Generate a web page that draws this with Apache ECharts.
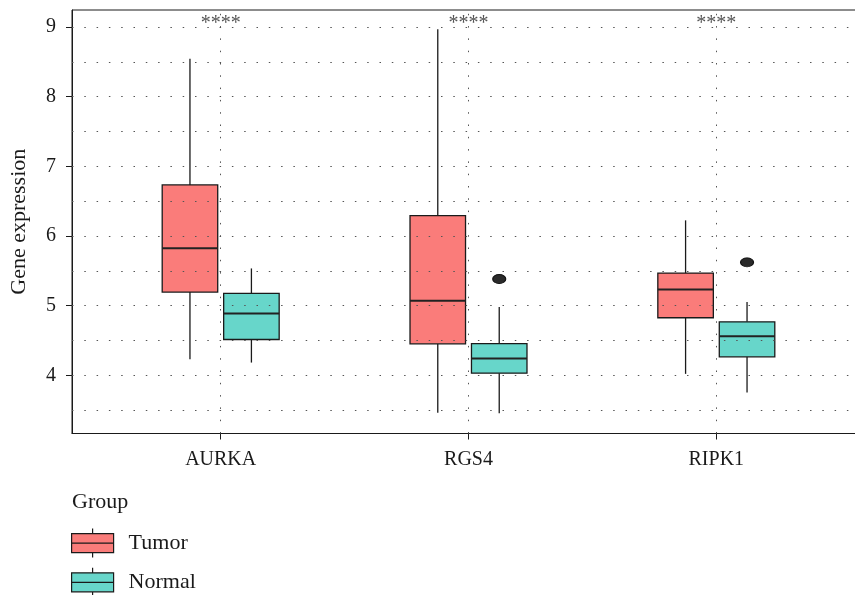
<!DOCTYPE html>
<html>
<head>
<meta charset="utf-8">
<script src="https://cdn.jsdelivr.net/npm/echarts@6/dist/echarts.min.js"></script>
<style>html,body{margin:0;padding:0;background:#fff}#c{width:855px;height:595px}</style>
</head>
<body>
<div id="c"></div>
<script>
// ---- data ----
const categories = ['AURKA', 'RGS4', 'RIPK1'];
// [min, Q1, median, Q3, max]
const tumorStats = [
  [4.233, 5.196, 5.823, 6.734, 8.546],
  [3.465, 4.453, 5.071, 6.293, 8.967],
  [4.022, 4.827, 5.233, 5.469, 6.225]
];
const normalStats = [
  [4.184, 4.515, 4.888, 5.176, 5.535],
  [3.457, 4.032, 4.242, 4.457, 4.980],
  [3.753, 4.266, 4.563, 4.769, 5.052]
];
// [category number, value]
const normalOutliers = [[2, 5.383], [3, 5.622]];
const tumorOutliers = [];
const significance = ['****', '****', '****'];
const signifLevel = 9.05;
const yTicks = [4, 5, 6, 7, 8, 9];
const yGrid = [3.5, 4, 4.5, 5, 5.5, 6, 6.5, 7, 7.5, 8, 8.5, 9];
const groups = ['Tumor', 'Normal'];

// ---- style ----
const FONT = 'Liberation Serif';
const colors = { Tumor: '#FA7C7A', Normal: '#67D6CA' };
const dodge = 0.124, halfW = 0.112;
const ink = '#1a1a1a';
const dotted = { color: '#555', width: 1, type: [1.5, 10.8] };

function boxRenderer(offset) {
  return function (params, api) {
    const x = api.value(0) + offset;
    const pMin = api.coord([x, api.value(1)]);
    const pQ1 = api.coord([x, api.value(2)]);
    const pMed = api.coord([x, api.value(3)]);
    const pQ3 = api.coord([x, api.value(4)]);
    const pMax = api.coord([x, api.value(5)]);
    const left = api.coord([x - halfW, api.value(3)])[0];
    const right = api.coord([x + halfW, api.value(3)])[0];
    const cx = pMed[0];
    const fill = api.visual('color');
    const ls = { stroke: ink, lineWidth: 1.3 };
    return {
      type: 'group',
      children: [
        { type: 'line', shape: { x1: cx, y1: pQ3[1], x2: cx, y2: pMax[1] }, style: ls },
        { type: 'line', shape: { x1: cx, y1: pQ1[1], x2: cx, y2: pMin[1] }, style: ls },
        { type: 'rect', shape: { x: left, y: pQ3[1], width: right - left, height: pQ1[1] - pQ3[1] },
          style: { fill: fill, stroke: ink, lineWidth: 1.3 } },
        { type: 'line', shape: { x1: left, y1: pMed[1], x2: right, y2: pMed[1] }, style: { stroke: '#222', lineWidth: 2 } }
      ]
    };
  };
}

const chart = echarts.init(document.getElementById('c'), null, { renderer: 'canvas' });
const legendIcon = 'path://M0,5H42V24H0Z M0,14.5H42 M21,0V5 M21,24V29';

const option = {
  backgroundColor: '#fff',
  animation: false,
  textStyle: { fontFamily: FONT },
  title: {
    text: 'Group', left: 67, top: 486,
    textStyle: { fontFamily: FONT, fontSize: 22, fontWeight: 'normal', color: ink }
  },
  legend: {
    data: groups, orient: 'vertical', left: 71, top: 528, padding: 0, height: 90,
    itemWidth: 42, itemHeight: 29, itemGap: 9, icon: legendIcon,
    selectedMode: false,
    itemStyle: { borderColor: ink, borderWidth: 1.2 },
    textStyle: { fontFamily: FONT, fontSize: 22, color: ink, padding: [0, 0, 0, 10] }
  },
  grid: {
    left: 72, top: 10, width: 793, height: 423.5,
    outerBoundsMode: 'none', containLabel: false,
    show: true, borderColor: ink, borderWidth: 1, backgroundColor: '#fff'
  },
  xAxis: {
    type: 'value', min: 0.4, max: 3.6,
    axisLine: { show: true, onZero: false, lineStyle: { color: ink, width: 1 } },
    axisTick: { show: true, length: 6, customValues: [1, 2, 3], lineStyle: { color: ink } },
    axisLabel: {
      customValues: [1, 2, 3], margin: 16,
      formatter: v => categories[Math.round(v) - 1] || '',
      fontFamily: FONT, fontSize: 20, color: ink
    },
    splitLine: { show: false }
  },
  yAxis: {
    type: 'value', min: 3.166, max: 9.244,
    name: 'Gene expression', nameLocation: 'middle', nameGap: 42,
    nameTextStyle: { fontFamily: FONT, fontSize: 22, color: ink },
    axisLine: { show: true, onZero: false, lineStyle: { color: ink, width: 1 } },
    axisTick: { show: true, length: 6, customValues: yTicks, lineStyle: { color: ink } },
    axisLabel: { customValues: yTicks, margin: 16, padding: [5, 0, 0, 0], fontFamily: FONT, fontSize: 20, color: ink },
    splitLine: { show: false }
  },
  series: [
    {
      name: 'grid', type: 'scatter', data: [], z: 1, silent: true,
      markLine: {
        silent: true, symbol: 'none', label: { show: false },
        lineStyle: dotted, animation: false,
        data: yGrid.map(v => ({ yAxis: v })).concat(categories.map((c, i) => ({ xAxis: i + 1 })))
      }
    },
    {
      name: 'Tumor', type: 'custom', z: 3,
      itemStyle: { color: colors.Tumor },
      encode: { x: 0, y: [1, 2, 3, 4, 5] },
      data: tumorStats.map((s, i) => [i + 1].concat(s)),
      renderItem: boxRenderer(-dodge)
    },
    {
      name: 'Normal', type: 'custom', z: 3,
      itemStyle: { color: colors.Normal },
      encode: { x: 0, y: [1, 2, 3, 4, 5] },
      data: normalStats.map((s, i) => [i + 1].concat(s)),
      renderItem: boxRenderer(dodge)
    },
    {
      name: 'outliers', type: 'scatter', z: 4, silent: true,
      symbol: 'circle', symbolSize: [13, 9],
      itemStyle: { color: '#2a2a2a', borderColor: '#111', borderWidth: 1, opacity: 1 },
      data: normalOutliers.map(o => [o[0] + dodge, o[1]])
        .concat(tumorOutliers.map(o => [o[0] - dodge, o[1]]))
    },
    {
      name: 'signif', type: 'custom', z: 5, silent: true,
      encode: { x: 0, y: 1 },
      data: significance.map((s, i) => [i + 1, signifLevel]),
      renderItem: function (params, api) {
        const p = api.coord([api.value(0), api.value(1)]);
        return {
          type: 'text', x: p[0], y: p[1],
          style: { text: significance[params.dataIndex], fill: '#555', font: '20px "' + FONT + '"',
            align: 'center', verticalAlign: 'middle' }
        };
      }
    }
  ]
};
chart.setOption(option);
</script>
</body>
</html>
